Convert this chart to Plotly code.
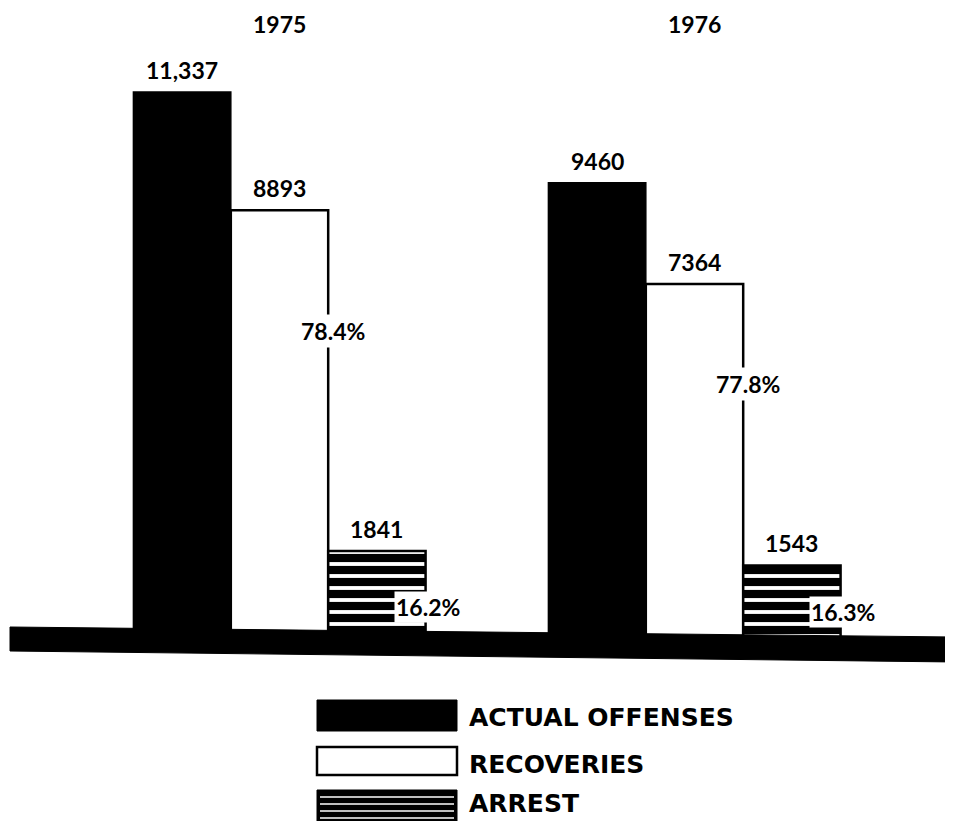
import plotly.graph_objects as go

# ---- data ----
years = ["1975", "1976"]
actual_offenses = [11337, 9460]
recoveries = [8893, 7364]
arrests = [1841, 1543]
series_names = ["ACTUAL OFFENSES", "RECOVERIES", "ARREST"]

def fmt(v):
    return f"{v:,}" if v >= 10000 else str(v)

OFF = 8  # page body margin
W, H = 953 - OFF, 821 - OFF
# plot area in page pixels: x 72..902, y 60..640
ML, MT = 72 - OFF, 60 - OFF
PW, PH = 830, 580
MR = W - ML - PW
MB = H - MT - PH

def px_x(p):  # page pixel -> paper x
    return (p - OFF - ML) / PW

def px_y(p):  # page pixel -> paper y
    return (MT + PH - (p - OFF)) / PH

BARGAP = 0.296
bar_w = (1 - BARGAP) / 3

NUM_FONT = dict(family="Lato", size=23, color="black", weight="bold")

fig = go.Figure()
fig.add_trace(go.Bar(x=years, y=actual_offenses, name=series_names[0],
                     marker=dict(color="black", line=dict(color="black", width=1.5))))
fig.add_trace(go.Bar(x=years, y=recoveries, name=series_names[1],
                     marker=dict(color="white", line=dict(color="black", width=2.5))))
fig.add_trace(go.Bar(x=years, y=arrests, name=series_names[2],
                     marker=dict(color="white", line=dict(color="black", width=2.5),
                                 pattern=dict(shape="-", fgcolor="black", bgcolor="white",
                                              fgopacity=1, size=12, solidity=0.68,
                                              fillmode="replace"))))

annotations = []
# year labels
for i, yr in enumerate(years):
    annotations.append(dict(x=i, y=px_y(24), xref="x", yref="paper", text=yr,
                            yanchor="middle", showarrow=False,
                            font=dict(family="Lato", size=23, color="black", weight="bold")))
# value labels
for series, off in ((actual_offenses, -bar_w), (recoveries, 0), (arrests, bar_w)):
    for i, v in enumerate(series):
        annotations.append(dict(x=i + off, y=v, xref="x", yref="y", text=fmt(v),
                                showarrow=False, yanchor="bottom", yshift=6, font=NUM_FONT))
# percentage labels
for i in range(len(years)):
    rp = recoveries[i] / actual_offenses[i] * 100
    ap = arrests[i] / actual_offenses[i] * 100
    annotations.append(dict(x=i + bar_w / 2 + 0.012, y=recoveries[i] * 0.72, xref="x", yref="y",
                            yanchor="middle", text=f"{rp:.1f}%", showarrow=False,
                            bgcolor="white", borderpad=2,
                            font=dict(family="Lato", size=23, color="black", weight="bold")))
    annotations.append(dict(x=i + 1.5 * bar_w - 0.075, y=arrests[i] * 0.37, xref="x", yref="y",
                            xanchor="left", yanchor="middle", text=f"{ap:.1f}%", showarrow=False,
                            bgcolor="white", borderpad=1,
                            font=dict(family="Lato", size=23, color="black", weight="bold")))

shapes = []
# baseline band (slightly tilted, as in the scan)
shapes.append(dict(type="path", xref="paper", yref="paper", layer="above",
                   path=f"M {px_x(10)},{px_y(627)} L {px_x(955)},{px_y(637)} "
                        f"L {px_x(955)},{px_y(662)} L {px_x(10)},{px_y(651)} Z",
                   fillcolor="black", line=dict(color="black", width=1)))

# legend (drawn manually, large swatches)
sw_x0, sw_x1 = px_x(317), px_x(457)
legend_rows = [(700, 731), (747, 775), (790, 830)]
text_centers = [717, 764, 803]
y0, y1 = legend_rows[0]
shapes.append(dict(type="rect", xref="paper", yref="paper", x0=sw_x0, x1=sw_x1,
                   y0=px_y(y1), y1=px_y(y0), fillcolor="black", line=dict(color="black", width=1)))
y0, y1 = legend_rows[1]
shapes.append(dict(type="rect", xref="paper", yref="paper", x0=sw_x0, x1=sw_x1,
                   y0=px_y(y1), y1=px_y(y0), fillcolor="white", line=dict(color="black", width=2.5)))
y0, y1 = legend_rows[2]
shapes.append(dict(type="rect", xref="paper", yref="paper", x0=sw_x0, x1=sw_x1,
                   y0=px_y(y1), y1=px_y(y0), fillcolor="black", line=dict(color="black", width=1)))
for ly in (797, 804, 811, 818):
    shapes.append(dict(type="line", xref="paper", yref="paper", x0=px_x(320), x1=px_x(454),
                       y0=px_y(ly), y1=px_y(ly), line=dict(color="white", width=1.5)))

for name, cy in zip(series_names, text_centers):
    annotations.append(dict(x=px_x(467), y=px_y(cy), xref="paper", yref="paper",
                            xanchor="left", yanchor="middle", text=name, showarrow=False,
                            font=dict(family="DejaVu Sans", size=25, color="black", weight="bold")))

fig.update_layout(
    width=W, height=H,
    margin=dict(l=ML, r=MR, t=MT, b=MB),
    paper_bgcolor="white", plot_bgcolor="white",
    barmode="group", bargap=BARGAP, bargroupgap=0,
    showlegend=False,
    xaxis=dict(type="category", range=[-0.5, 1.5], showticklabels=False, showgrid=False,
               zeroline=False, showline=False, ticks=""),
    yaxis=dict(range=[0, 12000], showticklabels=False, showgrid=False, zeroline=False,
               showline=False, ticks=""),
    annotations=annotations,
    shapes=shapes,
)

fig.write_html("out.html")
